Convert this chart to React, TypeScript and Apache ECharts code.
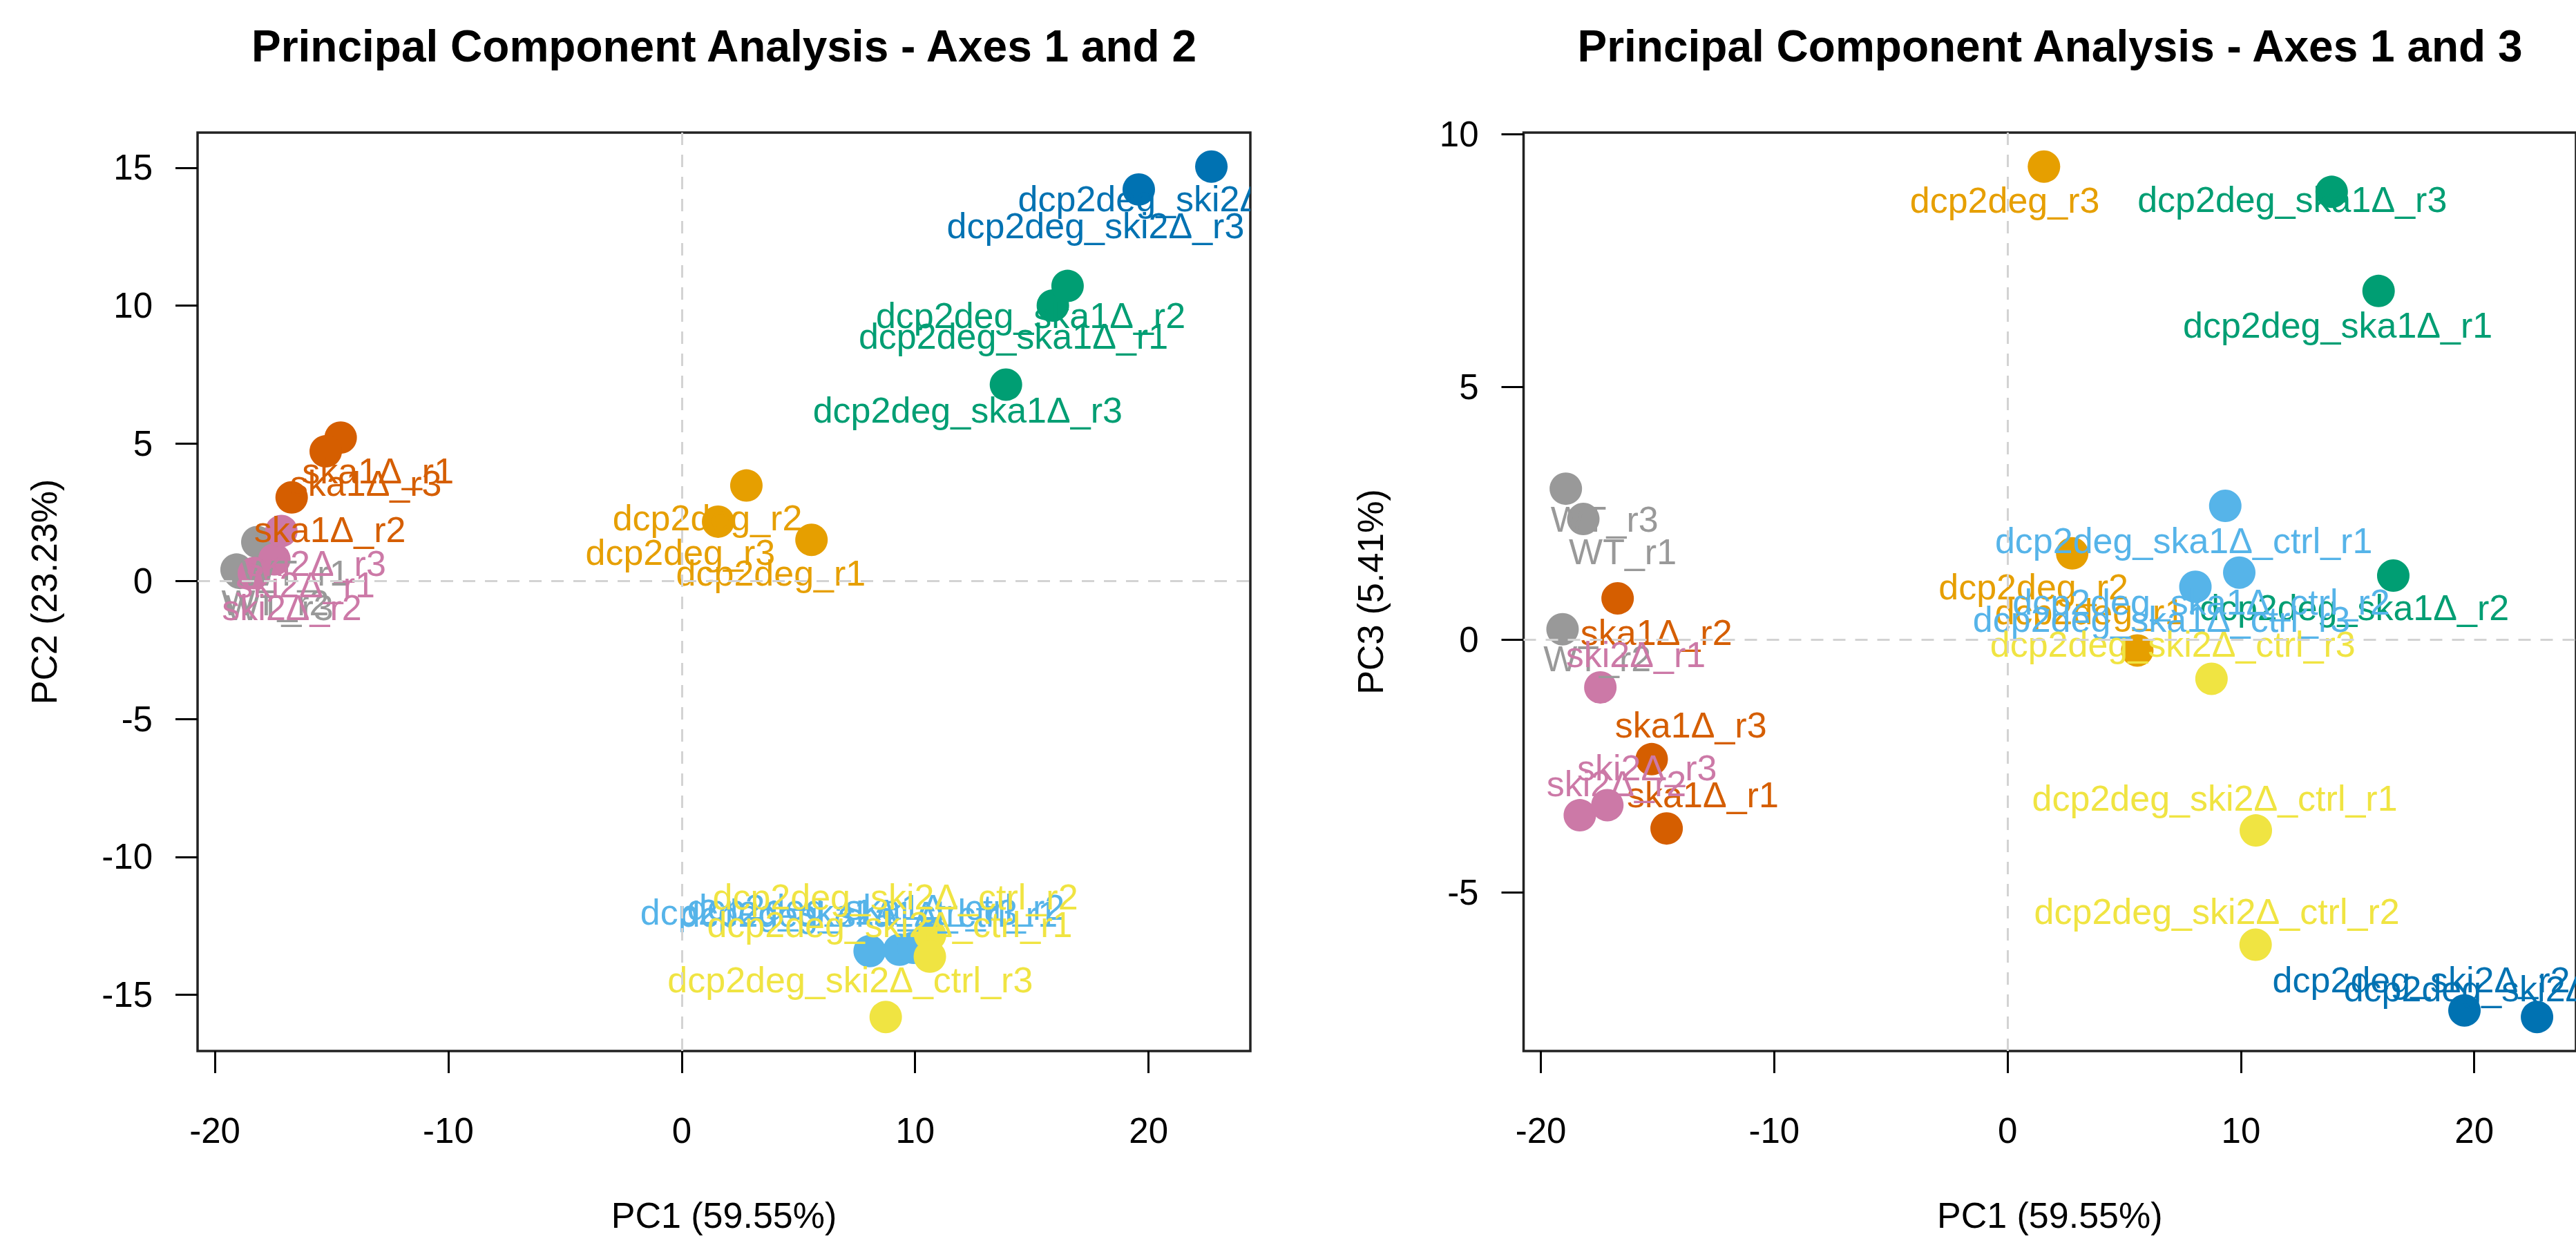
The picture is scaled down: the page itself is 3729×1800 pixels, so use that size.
import React, { useEffect, useRef } from "react";
import * as echarts from "echarts";

const sampleNames = [
  "WT_r1", "WT_r2", "WT_r3",
  "ska1Δ_r1", "ska1Δ_r2", "ska1Δ_r3",
  "ski2Δ_r1", "ski2Δ_r2", "ski2Δ_r3",
  "dcp2deg_r1", "dcp2deg_r2", "dcp2deg_r3",
  "dcp2deg_ska1Δ_r1", "dcp2deg_ska1Δ_r2", "dcp2deg_ska1Δ_r3",
  "dcp2deg_ski2Δ_r2", "dcp2deg_ski2Δ_r3",
  "dcp2deg_ska1Δ_ctrl_r1", "dcp2deg_ska1Δ_ctrl_r2", "dcp2deg_ska1Δ_ctrl_r3",
  "dcp2deg_ski2Δ_ctrl_r1", "dcp2deg_ski2Δ_ctrl_r2", "dcp2deg_ski2Δ_ctrl_r3",
];
const sampleGroup = [0, 0, 0, 1, 1, 1, 2, 2, 2, 3, 3, 3, 4, 4, 4, 5, 5, 6, 6, 6, 7, 7, 7];
const groupColors = ["#999999", "#D55E00", "#CC79A7", "#E69F00", "#009E73", "#0072B2", "#56B4E9", "#F0E442"];

const pc1 = [-18.18, -19.07, -18.93, -14.61, -16.71, -15.25, -17.45, -18.33, -17.15, 5.56, 2.77, 1.56, 15.9, 16.53, 13.89, 22.69, 19.58, 9.33, 9.93, 8.05, 10.64, 10.63, 8.74];
const pc2 = [1.42, 0.42, 0.3, 5.21, 3.04, 4.71, 0.79, 0.29, 1.82, 1.5, 3.47, 2.16, 10.0, 10.71, 7.13, 15.04, 14.21, -13.37, -13.3, -13.42, -12.83, -13.62, -15.81];
const pc3 = [2.39, 0.21, 2.99, -3.73, 0.82, -2.36, -0.94, -3.47, -3.27, -0.21, 1.71, 9.36, 6.9, 1.27, 8.86, -7.46, -7.33, 2.65, 1.33, 1.05, -3.77, -6.03, -0.77];

// label anchor positions (data units)
const label12X = [-16.55, -17.41, -17.23, -13.01, -15.07, -13.53, -16.13, -16.7, -15.66, 3.82, 1.1, -0.06, 14.21, 14.95, 12.25, 20.78, 17.73, 8.02, 8.32, 6.31, 8.91, 9.15, 7.22];
const label12Y = [0.29, -0.78, -0.96, 4.0, 1.88, 3.54, -0.13, -0.96, 0.63, 0.29, 2.29, 1.04, 8.88, 9.63, 6.21, 13.88, 12.88, -12.08, -11.83, -12.0, -12.46, -11.46, -14.46];
const label13X = [-16.49, -17.58, -17.27, -13.06, -15.05, -13.57, -15.93, -16.76, -15.45, 3.52, 1.11, -0.12, 14.15, 14.86, 12.2, 17.73, 20.78, 7.55, 8.3, 6.6, 8.88, 8.97, 7.08];
const label13Y = [1.74, -0.37, 2.39, -3.07, 0.14, -1.68, -0.29, -2.85, -2.53, 0.55, 1.05, 8.7, 6.22, 0.64, 8.71, -6.73, -6.91, 1.96, 0.74, 0.41, -3.14, -5.37, -0.09];

const xTicks = [-20, -10, 0, 10, 20];
const y2Ticks = [-15, -10, -5, 0, 5, 10, 15];
const y3Ticks = [-5, 0, 5, 10];

const titles = ["Principal Component Analysis - Axes 1 and 2", "Principal Component Analysis - Axes 1 and 3"];
const xName = "PC1 (59.55%)";
const y2Name = "PC2 (23.23%)";
const y3Name = "PC3 (5.41%)";

const FONT = '"Liberation Sans", Arial, Helvetica, sans-serif';

function padRange(arr: number[]): [number, number] {
  const lo = Math.min(...arr);
  const hi = Math.max(...arr);
  const d = (hi - lo) * 0.04;
  return [lo - d, hi + d];
}

export default function App() {
  const ref = useRef<HTMLDivElement>(null);
  useEffect(() => {
    if (!ref.current) return;
    const chart = echarts.init(ref.current, null, { renderer: "svg" });
    const r1 = padRange(pc1);
    const r2 = padRange(pc2);
    const r3 = padRange(pc3);
    const gridTop = 192;
    const gridH = 1330;
    const gridW = 1524;
    const gridLefts = [286, 2205.5];
    const grids = gridLefts.map((l) => ({
      left: l, top: gridTop, width: gridW, height: gridH, show: true,
      borderColor: "#222", borderWidth: 3.5, backgroundColor: "transparent",
    }));
    const mkX = (gi: number) => ({
      type: "value",
      gridIndex: gi,
      position: "bottom",
      min: r1[0],
      max: r1[1],
      name: xName,
      nameLocation: "middle",
      nameGap: 212,
      nameTextStyle: { fontSize: 52, fontFamily: FONT, color: "#000", verticalAlign: "top" },
      axisLine: { show: false, onZero: false },
      splitLine: { show: false },
      axisTick: { show: true, length: 32, lineStyle: { color: "#000", width: 3 }, customValues: xTicks },
      axisLabel: { fontSize: 51, fontFamily: FONT, color: "#000", margin: 90, customValues: xTicks },
    });
    const mkY = (gi: number, r: [number, number], ticks: number[], name: string) => ({
      type: "value",
      gridIndex: gi,
      position: "left",
      min: r[0],
      max: r[1],
      name,
      nameLocation: "middle",
      nameGap: 196,
      nameTextStyle: { fontSize: 52, fontFamily: FONT, color: "#000" },
      axisLine: { show: false, onZero: false },
      splitLine: { show: false },
      axisTick: { show: true, length: 32, lineStyle: { color: "#000", width: 3 }, customValues: ticks },
      axisLabel: { fontSize: 51, fontFamily: FONT, color: "#000", margin: 65, customValues: ticks },
    });

    const dashStyle = { color: "#D3D3D3", width: 3, type: [18, 14] };
    const zeroLines = (gi: number) => ({
      type: "line",
      xAxisIndex: gi,
      yAxisIndex: gi,
      data: [],
      z: 1,
      silent: true,
      markLine: {
        silent: true,
        symbol: "none",
        label: { show: false },
        lineStyle: dashStyle,
        data: [{ xAxis: 0 }, { yAxis: 0 }],
      },
    });
    const points = (gi: number, ys: number[]) => ({
      type: "scatter",
      xAxisIndex: gi,
      yAxisIndex: gi,
      z: 2,
      clip: true,
      symbol: "circle",
      symbolSize: 47,
      silent: true,
      data: pc1.map((x, i) => ({ value: [x, ys[i]], itemStyle: { color: groupColors[sampleGroup[i]], opacity: 1 } })),
    });
    const labels = (gi: number, lx: number[], ly: number[]) => ({
      type: "custom",
      xAxisIndex: gi,
      yAxisIndex: gi,
      z: 3,
      clip: true,
      silent: true,
      encode: { x: 0, y: 1 },
      data: lx.map((x, i) => [x, ly[i], sampleGroup[i]]),
      renderItem: (params: any, api: any) => {
        const p = api.coord([api.value(0), api.value(1)]);
        const i = params.dataIndex;
        return {
          type: "text",
          x: p[0],
          y: p[1],
          style: {
            text: sampleNames[i],
            fill: groupColors[sampleGroup[i]],
            font: `52px ${FONT}`,
            align: "center",
            verticalAlign: "middle",
          },
        };
      },
    });

    chart.setOption({
      animation: false,
      backgroundColor: "#fff",
      grid: grids,
      xAxis: [mkX(0), mkX(1)],
      yAxis: [mkY(0, r2, y2Ticks, y2Name), mkY(1, r3, y3Ticks, y3Name)],
      graphic: gridLefts.map((l, k) => ({
        type: "text",
        x: l + gridW / 2,
        y: 67,
        style: { text: titles[k], font: `bold 64px ${FONT}`, fill: "#000", align: "center", verticalAlign: "middle" },
      })),
      series: [
        zeroLines(0), zeroLines(1),
        points(0, pc2), points(1, pc3),
        labels(0, label12X, label12Y), labels(1, label13X, label13Y),
      ],
    });
    return () => chart.dispose();
  }, []);
  return <div ref={ref} style={{ position: "absolute", left: 0, top: 0, width: 3729, height: 1800 }} />;
}
